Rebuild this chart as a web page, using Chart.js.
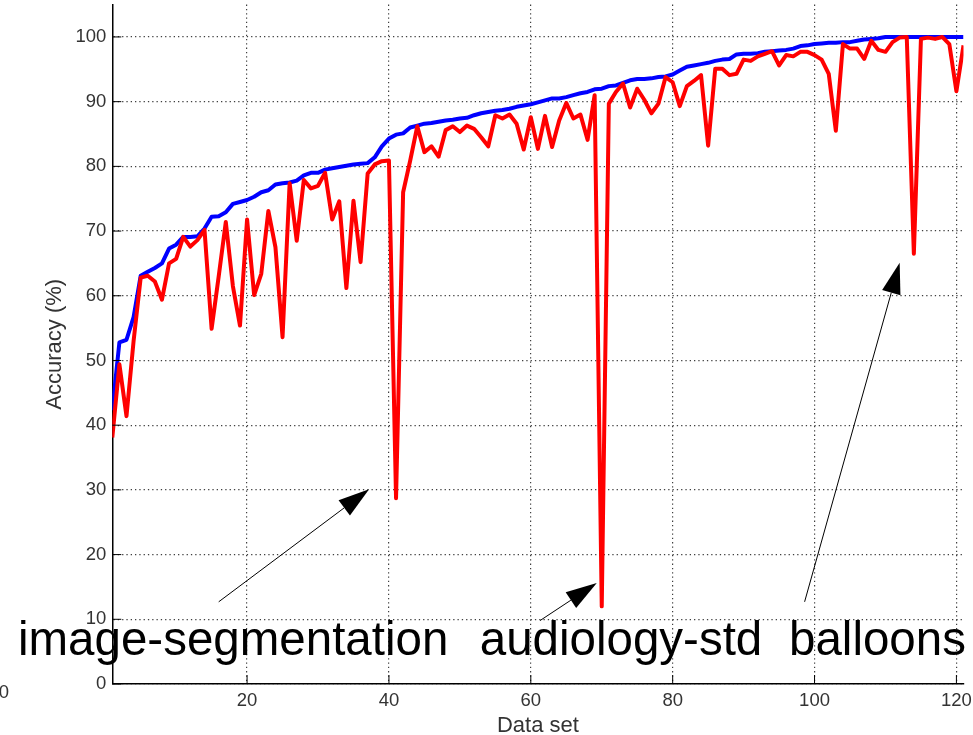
<!DOCTYPE html>
<html>
<head>
<meta charset="utf-8">
<title>Accuracy per data set</title>
<script src="https://cdn.jsdelivr.net/npm/chart.js@4.4.1/dist/chart.umd.min.js"></script>
<style>
  html, body { margin: 0; padding: 0; background: #fff; }
  canvas { display: block; }
</style>
</head>
<body>
<canvas id="accuracyChart" width="973" height="735"></canvas>
<script>
// accuracy of the chosen classifier per data set (red) and best reachable accuracy (blue)
const chosenAccuracy = [
  38.1, 49.4, 41.4, 53.0, 62.8, 63.1, 62.2, 59.4, 65.0, 65.7,
  69.1, 67.6, 68.6, 70.2, 54.9, 63.0, 71.4, 61.5, 55.4, 71.8,
  60.1, 63.4, 73.1, 67.5, 53.6, 77.4, 68.5, 77.9, 76.6, 77.0,
  79.0, 71.8, 74.6, 61.2, 74.7, 65.2, 78.9, 80.3, 80.8, 80.9,
  28.7, 76.0, 80.9, 86.2, 82.2, 83.1, 81.5, 85.6, 86.2, 85.3,
  86.3, 85.8, 84.5, 83.1, 87.9, 87.4, 88.0, 86.6, 82.6, 87.6,
  82.7, 87.8, 83.0, 87.1, 89.8, 87.4, 88.0, 84.1, 91.0, 12.0,
  89.7, 91.5, 92.8, 89.1, 92.0, 90.3, 88.2, 89.7, 93.8, 93.0,
  89.3, 92.4, 93.2, 94.1, 83.2, 95.1, 95.1, 94.1, 94.3, 96.5,
  96.3, 97.0, 97.4, 97.8, 95.6, 97.2, 97.0, 97.7, 97.7, 97.2,
  96.5, 94.3, 85.5, 98.9, 98.2, 98.2, 96.6, 99.4, 98.0, 97.7,
  99.2, 99.9, 100, 66.5, 99.7, 99.9, 99.7, 100, 98.9, 91.6,
  98.7,
];
const bestAccuracy = [
  42.3, 52.8, 53.2, 56.7, 63.1, 63.7, 64.3, 65.0, 67.3, 67.9,
  69.1, 69.1, 69.2, 70.4, 72.2, 72.3, 72.9, 74.2, 74.5, 74.8,
  75.3, 76.0, 76.3, 77.2, 77.4, 77.5, 77.8, 78.6, 79.0, 79.0,
  79.5, 79.7, 79.9, 80.1, 80.3, 80.4, 80.5, 81.4, 83.1, 84.3,
  84.9, 85.1, 86.0, 86.3, 86.6, 86.7, 86.9, 87.1, 87.2, 87.4,
  87.5, 87.9, 88.2, 88.4, 88.6, 88.7, 88.9, 89.2, 89.4, 89.6,
  89.9, 90.2, 90.5, 90.5, 90.7, 91.0, 91.3, 91.5, 91.9, 92.0,
  92.4, 92.5, 92.9, 93.3, 93.5, 93.5, 93.6, 93.8, 93.9, 94.2,
  94.8, 95.4, 95.6, 95.8, 96.0, 96.3, 96.5, 96.6, 97.3, 97.4,
  97.4, 97.5, 97.7, 97.8, 97.9, 98.0, 98.2, 98.6, 98.7, 98.9,
  99.0, 99.1, 99.1, 99.2, 99.2, 99.4, 99.6, 99.7, 99.8, 100,
  100, 100, 100, 100, 100, 100, 100, 100, 100, 100,
  100,
];
const dataSetIds = chosenAccuracy.map((_, i) => i + 1);

const xTicks = [20, 40, 60, 80, 100, 120];
const yTicks = [0, 10, 20, 30, 40, 50, 60, 70, 80, 90, 100];

// callouts, in data units
const callouts = [
  { text: "image-segmentation", x: -12.3, y: 4.48 },
  { text: "audiology-std", x: 52.8, y: 4.48 },
  { text: "balloons", x: 96.4, y: 4.48 },
];
const arrows = [
  { from: [16.0, 12.7], to: [37.2, 30.1] },
  { from: [61.3, 9.8], to: [69.3, 15.6] },
  { from: [98.6, 12.7], to: [112.0, 65.1] },
];
const strayLabel = { text: "0", x: -14.3, y: -1.4 };

const tickFont = { family: "'Liberation Sans', Arial, sans-serif", size: 18.5 };
const titleFont = { family: "'Liberation Sans', Arial, sans-serif", size: 22, lineHeight: 1 };

const callOutPlugin = {
  id: "callOuts",
  afterDraw(chart) {
    const { ctx, scales: { x, y } } = chart;
    const area = chart.chartArea;
    ctx.save();

    // ticks point into the axes
    ctx.strokeStyle = "#000";
    ctx.lineWidth = 1;
    ctx.beginPath();
    xTicks.forEach((v) => {
      const px = x.getPixelForValue(v);
      ctx.moveTo(px, area.bottom);
      ctx.lineTo(px, area.bottom - 9);
    });
    yTicks.forEach((v) => {
      const py = y.getPixelForValue(v);
      ctx.moveTo(area.left, py);
      ctx.lineTo(area.left + 9, py);
    });
    ctx.stroke();

    // arrows
    ctx.fillStyle = "#000";
    arrows.forEach((a) => {
      const x0 = x.getPixelForValue(a.from[0]);
      const y0 = y.getPixelForValue(a.from[1]);
      const x1 = x.getPixelForValue(a.to[0]);
      const y1 = y.getPixelForValue(a.to[1]);
      const len = Math.hypot(x1 - x0, y1 - y0);
      const ux = (x1 - x0) / len;
      const uy = (y1 - y0) / len;
      const headLen = 31;
      const headHalf = 9.5;
      const bx = x1 - ux * headLen;
      const by = y1 - uy * headLen;
      ctx.beginPath();
      ctx.moveTo(x0, y0);
      ctx.lineTo(bx, by);
      ctx.stroke();
      ctx.beginPath();
      ctx.moveTo(x1, y1);
      ctx.lineTo(bx - uy * headHalf, by + ux * headHalf);
      ctx.lineTo(bx + uy * headHalf, by - ux * headHalf);
      ctx.closePath();
      ctx.fill();
    });

    ctx.font = "47.5px 'Liberation Sans', Arial, sans-serif";
    ctx.textAlign = "left";
    ctx.textBaseline = "alphabetic";
    callouts.forEach((c) => {
      ctx.fillText(c.text, x.getPixelForValue(c.x), y.getPixelForValue(c.y));
    });

    ctx.font = tickFont.size + "px 'Liberation Sans', Arial, sans-serif";
    ctx.fillStyle = "#333";
    ctx.textAlign = "center";
    ctx.textBaseline = "middle";
    ctx.fillText(strayLabel.text, x.getPixelForValue(strayLabel.x), y.getPixelForValue(strayLabel.y));
    ctx.restore();
  },
};

const gridStyle = {
  color: "rgba(0, 0, 0, 0.75)",
  lineWidth: 1.2,
  drawTicks: false,
};
const axisBorder = { display: true, color: "#000", width: 1.5, dash: [1.3, 3] };

new Chart(document.getElementById("accuracyChart"), {
  type: "line",
  data: {
    datasets: [
      {
        label: "Chosen",
        data: dataSetIds.map((id, i) => ({ x: id, y: chosenAccuracy[i] })),
        borderColor: "#ff0000",
        borderWidth: 4,
        borderJoinStyle: "round",
        pointRadius: 0,
        tension: 0,
      },
      {
        label: "Best",
        data: dataSetIds.map((id, i) => ({ x: id, y: bestAccuracy[i] })),
        borderColor: "#0000ff",
        borderWidth: 4,
        borderJoinStyle: "round",
        pointRadius: 0,
        tension: 0,
      },
    ],
  },
  options: {
    responsive: false,
    animation: false,
    devicePixelRatio: 1,
    layout: {
      padding: { top: 4.6, right: 9.5, left: 0, bottom: 0 },
    },
    plugins: {
      legend: { display: false },
      tooltip: { enabled: false },
    },
    scales: {
      x: {
        type: "linear",
        min: 1,
        max: 121,
        afterBuildTicks: (scale) => {
          scale.ticks = xTicks.map((v) => ({ value: v }));
        },
        afterFit: (scale) => {
          scale.height = 51;
          scale.paddingLeft = 0;
          scale.paddingRight = 0;
        },
        grid: { ...gridStyle },
        border: { ...axisBorder },
        ticks: {
          color: "#333",
          font: tickFont,
          padding: 6,
          maxRotation: 0,
        },
        title: {
          display: true,
          text: "Data set",
          color: "#333",
          font: titleFont,
          padding: { top: 0, bottom: -1.5 },
        },
      },
      y: {
        min: 0,
        max: 105,
        afterBuildTicks: (scale) => {
          scale.ticks = yTicks.map((v) => ({ value: v }));
        },
        afterFit: (scale) => {
          scale.width = 112.3;
          scale.paddingTop = 0;
          scale.paddingBottom = 0;
        },
        grid: { ...gridStyle },
        border: { ...axisBorder },
        ticks: {
          color: "#333",
          font: tickFont,
          padding: 6,
        },
        title: {
          display: true,
          text: "Accuracy (%)",
          color: "#333",
          font: titleFont,
          padding: { top: 44, bottom: 0 },
        },
      },
    },
  },
  plugins: [callOutPlugin],
});
</script>
</body>
</html>
